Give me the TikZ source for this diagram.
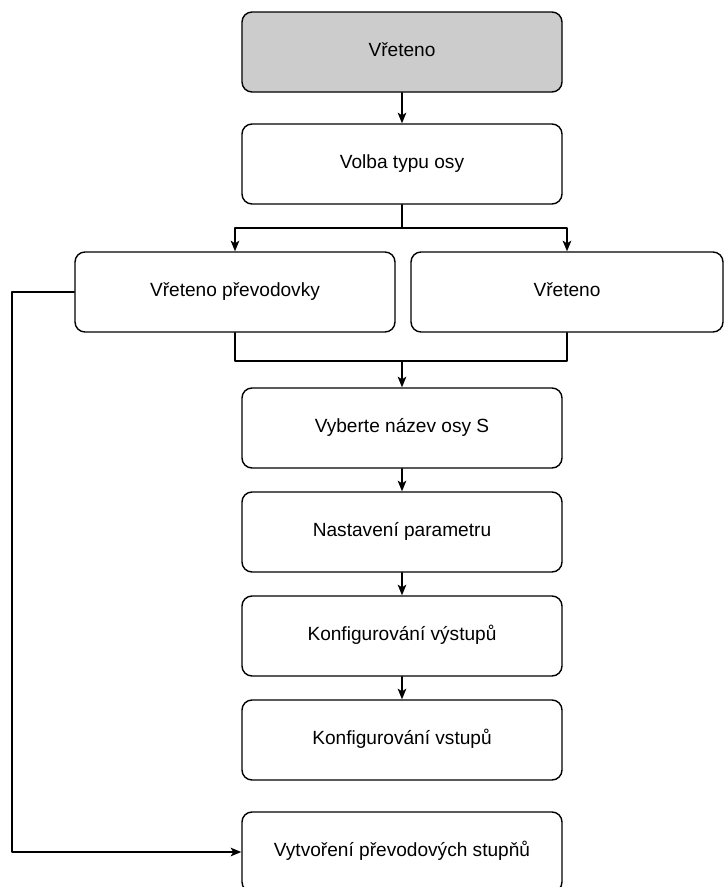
\documentclass[tikz,border=0pt]{standalone}
\usepackage{fontspec}
\setmainfont{Liberation Sans}
\usepackage{tikz}
\usetikzlibrary{arrows.meta}

\definecolor{headgray}{HTML}{CCCCCC}

\begin{document}
\begin{tikzpicture}[
				x=0.03cm,
				y=-0.03cm,
				line cap=round,
				line join=round,
				line width=1.2pt,
				font=\fontsize{16.3pt}{19pt}\selectfont,
				stepbox/.style={draw, rounded corners=0.3cm, minimum width=9.6cm, minimum height=2.4cm, text height=0.72em, text depth=0em, align=center},
				headbox/.style={stepbox, fill=headgray},
				arr/.style={-{Stealth[length=0.32cm, width=0.26cm, inset=0.08cm]}}
				]
				\useasboundingbox (0,0) rectangle (724,887);
				
				% Boxes
				\node[headbox] (vret) at (402,52) {Vřeteno};
				\node[stepbox] (volba) at (402,164) {Volba typu osy};
				\node[stepbox] (prevod) at (235,292) {Vřeteno převodovky};
				\node[stepbox, minimum width=9.36cm] (spindle) at (567,292) {Vřeteno};
				\node[stepbox] (nazev) at (402,428) {Vyberte název osy S};
				\node[stepbox] (param) at (402,532) {Nastavení parametru};
				\node[stepbox] (vystup) at (402,636) {Konfigurování výstupů};
				\node[stepbox] (vstup) at (402,740) {Konfigurování vstupů};
				\node[stepbox] (stupne) at (402,852) {Vytvoření převodových stupňů};
				
				% Branch and merge
				\coordinate (split) at (402,228);
				\coordinate (join) at (402,361);
				\coordinate (side) at (12,292);
				
				\draw[arr] (vret) -- (volba);
				\draw (volba) -- (split);
				\draw[arr] (split) -| (prevod);
				\draw[arr] (split) -| (spindle);
				\draw (prevod.south) |- (join);
				\draw (spindle.south) |- (join);
				\draw[arr] (join) -- (nazev);
				
				% Main chain
				\draw[arr] (nazev) -- (param);
				\draw[arr] (param) -- (vystup);
				\draw[arr] (vystup) -- (vstup);
				
				% Side path
				\draw[arr] (prevod.west) -- (side) |- (stupne.west);
			\end{tikzpicture}
\end{document}
